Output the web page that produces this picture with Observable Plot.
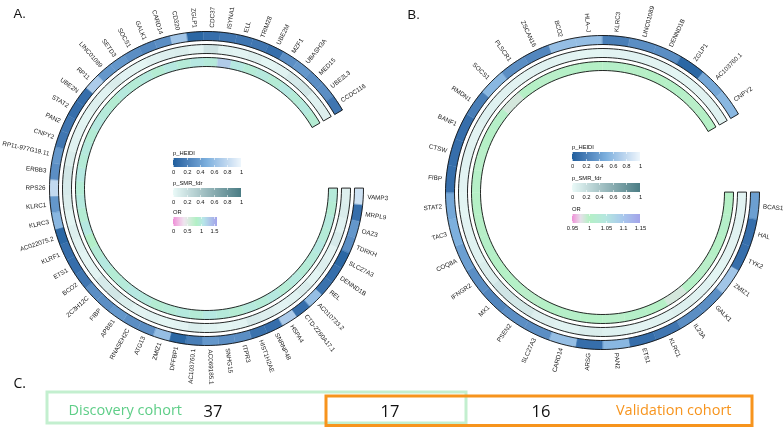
<!DOCTYPE html>
<html><head><meta charset="utf-8">
<script src="https://cdn.jsdelivr.net/npm/d3@7"></script>
<script src="https://cdn.jsdelivr.net/npm/@observablehq/plot@0.6"></script>
<style>
body{margin:0;background:#fff;}
#wrap{position:relative;width:784px;height:428px;overflow:hidden;background:#fff;}
#wrap svg{will-change:transform;}
#wrap svg text{-webkit-font-smoothing:antialiased;}
.lg{position:absolute;}
</style></head><body><div id="wrap"></div>
<script>
// ---------------- DATA ----------------
const genesA = ["VAMP3","MRPL9","OAZ3","TDRKH","SLC27A3","DENND1B","REL","AC010733.2","CTD-2260A17.1","HSPA4","SNRNP48","HIST1H2AE","ITPR3","SNHG15","AC069185.1","AC103760.1","DFFBP1","ZMIZ1","ATG13","RNASEH2C","APBB1","FIBP","ZC3H12C","BCO2","ETS1","KLRF1","AC022075.2","KLRC3","KLRC1","RPS26","ERBB3","RP11-977G19.11","CNPY2","PAN2","STAT2","UBE2N","RP11","LINC01089","SETD3","SOCS1","GALK1","CARD14","CD320","ZGLP1","CDC37","ISYNA1","ELL","TRIM28","UBE2M","MZF1","UBASH3A","MED15","UBE2L3","CCDC116"];
const heidiA = [0.85,0.1,0.35,0.3,0.05,0.1,0.12,0.6,0.1,0.7,0.1,0.12,0.3,0.3,0.35,0.2,0.05,0.6,0.3,0.3,0.35,0.3,0.3,0.15,0.1,0.1,0.05,0.55,0.35,0.8,0.3,0.35,0.15,0.15,0.1,0.1,0.7,0.35,0.35,0.3,0.25,0.3,0.65,0.05,0.1,0.15,0.15,0.15,0.1,0.3,0.35,0.3,0.3,0.15];
const smrA = [0.08,0.1,0.06,0.12,0.05,0.08,0.04,0.1,0.06,0.05,0.08,0.12,0.05,0.04,0.06,0.1,0.05,0.04,0.06,0.05,0.1,0.15,0.12,0.05,0.04,0.06,0.08,0.04,0.1,0.12,0.15,0.1,0.06,0.05,0.04,0.08,0.06,0.1,0.05,0.04,0.06,0.08,0.1,0.05,0.18,0.06,0.05,0.08,0.04,0.06,0.12,0.15,0.06,0.08];
const orA = [1.0,0.95,1.02,0.98,1.05,1.0,0.97,1.03,0.96,1.04,0.98,1.02,0.95,1.0,1.05,0.97,1.03,0.98,0.95,1.02,1.06,1.0,0.96,1.04,0.97,0.88,1.05,0.95,1.03,0.96,1.05,0.98,1.02,0.96,1.04,1.0,0.94,1.03,0.97,1.02,0.95,1.04,0.98,1.06,1.0,1.3,1.05,0.97,1.02,0.96,1.05,0.98,1.03,0.95];

const genesB = ["BCAS1","HAL","TYK2","ZMIZ1","GALK1","IL23A","KLRC1","ETS1","PAN2","ARSG","CARD14","SLC27A3","PSEN2","MX1","IFNGR2","COQ8A","TAC3","STAT2","FIBP","CTSW","BANF1","RMDN1","SOCS1","PLSCR1","ZSCAN16","BCO2","HLA–J","KLRC3","LINC01089","DENND1B","ZGLP1","AC103760.1","CNPY2"];
const heidiB = [0.4,0.1,0.1,0.65,0.3,0.3,0.15,0.1,0.55,0.1,0.6,0.3,0.3,0.25,0.3,0.4,0.5,0.45,0.1,0.1,0.1,0.2,0.55,0.3,0.25,0.6,0.6,0.2,0.3,0.3,0.05,0.45,0.55];
const smrB = [0.05,0.06,0.05,0.04,0.06,0.08,0.06,0.05,0.07,0.1,0.06,0.08,0.14,0.16,0.1,0.06,0.05,0.04,0.05,0.06,0.05,0.07,0.06,0.05,0.06,0.05,0.04,0.05,0.06,0.05,0.04,0.05,0.06];
const orB = [1.0,1.005,1.0,0.998,1.002,0.985,1.0,1.004,0.998,1.0,1.003,1.0,0.997,1.002,1.0,1.004,0.999,1.0,1.002,0.998,1.0,1.003,0.985,1.0,0.998,1.002,1.0,1.004,0.999,1.0,1.002,0.998,1.0];

const vennCounts = [37, 17, 16];
const cohortLabels = ["Discovery cohort", "Validation cohort"];
const panelLabels = ["A.", "B.", "C."];
const heidiTicks = [0, 0.2, 0.4, 0.6, 0.8, 1];
const smrTicks = [0, 0.2, 0.4, 0.6, 0.8, 1];
const orTicksA = [0, 0.5, 1, 1.5];
const orTicksB = [0.95, 1, 1.05, 1.1, 1.15];

// ---------------- LAYOUT & STYLE ----------------
const W = 784, H = 428;
const circA = {cx: 206, cy: 188}, circB = {cx: 602, cy: 192};
const ringGeom = [{key: "heidi", r0: 148, r1: 157}, {key: "smr", r0: 135, r1: 144}, {key: "or", r0: 122, r1: 131}];
const startDeg = 90, spanDeg = 330, labelR = 161;
const labelFont = "Liberation Sans, Arial, sans-serif";
const vennFont = "Open Sans, sans-serif";
const vennLayout = {
  boxes: [{x1: 47, x2: 466, y1: 392, y2: 423, stroke: "#c3efcf"}, {x1: 326, x2: 752, y1: 396, y2: 425.5, stroke: "#f7941d"}],
  numX: [212.5, 389.5, 540.5], numY: 416.5,
  labX: [68, 731], labY: 414, labAnchor: ["start", "end"], labColor: ["#5fce88", "#f7941d"]
};
const panelPos = [[13, 17], [407, 18], [13, 387]];

const heidiColor = d3.scaleLinear().domain([0, 0.5, 1]).range(["#1f5f9e", "#7db0de", "#eef6fc"]).interpolate(d3.interpolateLab).clamp(true);
const smrColor = d3.scaleLinear().domain([0, 1]).range(["#eafaf8", "#4b7d85"]).interpolate(d3.interpolateLab).clamp(true);
const orColorA = d3.scaleLinear().domain([0, 0.4, 0.85, 1.1, 1.6]).range(["#ee90d8", "#efe6ef", "#b2f0c5", "#b6e6e8", "#a3a4ea"]).interpolate(d3.interpolateLab).clamp(true);
const orColorB = d3.scaleLinear().domain([0.95, 0.975, 1, 1.05, 1.1, 1.15]).range(["#ee90d8", "#e6e0ea", "#b5f0c6", "#b5e6e0", "#a8c8ec", "#a3a4ea"]).interpolate(d3.interpolateLab).clamp(true);

// ---------------- GEOMETRY ----------------
const rad = d => d * Math.PI / 180;
const polar = (c, r, deg) => [c.cx + r * Math.sin(rad(deg)), c.cy - r * Math.cos(rad(deg))];

function cellRows(chart, c, genes, series) {
  const step = spanDeg / genes.length, out = [], K = 6;
  series.forEach((s, si) => {
    const g = ringGeom[si];
    genes.forEach((name, i) => {
      const a0 = startDeg + i * step, a1 = a0 + step, id = chart + g.key + i, fill = s.color(s.vals[i]);
      for (let k = 0; k <= K; k++) { const [x, y] = polar(c, g.r1, a0 + (a1 - a0) * k / K); out.push({x, y, id, fill}); }
      for (let k = K; k >= 0; k--) { const [x, y] = polar(c, g.r0, a0 + (a1 - a0) * k / K); out.push({x, y, id, fill}); }
    });
  });
  return out;
}
function outlineRows(chart, c) {
  const out = [], K = 160;
  ringGeom.forEach(g => {
    const id = chart + "o" + g.key;
    for (let k = 0; k <= K; k++) { const [x, y] = polar(c, g.r1, startDeg + spanDeg * k / K); out.push({x, y, id}); }
    for (let k = K; k >= 0; k--) { const [x, y] = polar(c, g.r0, startDeg + spanDeg * k / K); out.push({x, y, id}); }
  });
  return out;
}
function labelRows(c, genes) {
  const step = spanDeg / genes.length;
  return genes.map((name, i) => {
    const th = (startDeg + (i + 0.5) * step) % 360;
    const right = th < 180;
    const [x, y] = polar(c, labelR, th);
    return {x, y, name, rot: right ? th - 90 : th - 270, right};
  });
}

const cells = [
  ...cellRows("A", circA, genesA, [{vals: heidiA, color: heidiColor}, {vals: smrA, color: smrColor}, {vals: orA, color: orColorA}]),
  ...cellRows("B", circB, genesB, [{vals: heidiB, color: heidiColor}, {vals: smrB, color: smrColor}, {vals: orB, color: orColorB}])
];
const outlines = [...outlineRows("A", circA), ...outlineRows("B", circB)];
const labs = [...labelRows(circA, genesA), ...labelRows(circB, genesB)];

const vennNums = vennCounts.map((n, i) => ({n: String(n), x: vennLayout.numX[i], y: vennLayout.numY}));
const vennLabs = cohortLabels.map((t, i) => ({t, x: vennLayout.labX[i], y: vennLayout.labY, color: vennLayout.labColor[i], anchor: vennLayout.labAnchor[i]}));
const panels = panelLabels.map((t, i) => ({t, x: panelPos[i][0], y: panelPos[i][1]}));

const chart = Plot.plot({
  width: W, height: H, margin: 0,
  x: {domain: [0, W], range: [0, W], axis: null},
  y: {domain: [0, H], range: [0, H], axis: null},
  style: {background: "#fff", overflow: "visible"},
  marks: [
    Plot.line(cells, {x: "x", y: "y", z: "id", fill: "fill", stroke: "fill", strokeWidth: 0.4, curve: "linear-closed"}),
    Plot.line(outlines, {x: "x", y: "y", z: "id", stroke: "#111", strokeWidth: 0.9, fill: "none", curve: "linear-closed"}),
    Plot.text(labs.filter(d => d.right), {x: "x", y: "y", text: "name", rotate: "rot", textAnchor: "start", lineAnchor: "middle", fontSize: 6.3, fontFamily: labelFont, fill: "#222"}),
    Plot.text(labs.filter(d => !d.right), {x: "x", y: "y", text: "name", rotate: "rot", textAnchor: "end", lineAnchor: "middle", fontSize: 6.3, fontFamily: labelFont, fill: "#222"}),
    Plot.text(panels.slice(0, 2), {x: "x", y: "y", text: "t", textAnchor: "start", lineAnchor: "bottom", fontSize: 13, fontFamily: labelFont, fill: "#111"}),
    Plot.text(panels.slice(2), {x: "x", y: "y", text: "t", textAnchor: "start", lineAnchor: "bottom", fontSize: 14, fontFamily: vennFont, fill: "#111"}),
    Plot.rect(vennLayout.boxes, {x1: "x1", x2: "x2", y1: "y1", y2: "y2", stroke: "stroke", fill: "none", strokeWidth: 3}),
    Plot.text(vennNums, {x: "x", y: "y", text: "n", textAnchor: "middle", lineAnchor: "bottom", fontSize: 16.5, fontFamily: vennFont, fill: "#111"}),
    Plot.text(vennLabs.slice(0, 1), {x: "x", y: "y", text: "t", fill: "color", textAnchor: "start", lineAnchor: "bottom", fontSize: 14.5, fontFamily: vennFont}),
    Plot.text(vennLabs.slice(1), {x: "x", y: "y", text: "t", fill: "color", textAnchor: "end", lineAnchor: "bottom", fontSize: 14.5, fontFamily: vennFont})
  ]
});
const wrap = document.getElementById("wrap");
wrap.appendChild(chart);

// ---------------- LEGENDS ----------------
function ramp(label, scaleFn, lo, hi, ticks, width, left, barTop) {
  const mt = 8, mb = 7, h = 24;
  const el = Plot.legend({
    color: {type: "linear", domain: [lo, hi], interpolate: t => scaleFn(lo + t * (hi - lo))},
    label, width, height: h, marginTop: mt, marginBottom: mb, marginLeft: 0, marginRight: 0,
    tickSize: 0, ticks, tickFormat: d => String(d),
    style: {fontSize: "5.8px", fontFamily: labelFont, color: "#111", background: "transparent", overflow: "visible"}
  });
  const s = d3.select(el);
  s.selectAll("text").filter(function () { return this.parentNode === el; }).attr("font-weight", "normal").attr("y", mt - 3.5);
  s.selectAll(".tick line").each(function () {
    const l = d3.select(this);
    l.attr("stroke", "#fff").attr("stroke-width", 0.6).attr("y1", -(h - mt - mb)).attr("y2", -(h - mt - mb) + 2);
    const c = this.cloneNode(); this.parentNode.insertBefore(c, this);
    d3.select(c).attr("y1", -2).attr("y2", 0);
  });
  el.classList.add("lg");
  el.style.position = "absolute";
  el.style.left = left + "px";
  el.style.top = (barTop - mt) + "px";
  wrap.appendChild(el);
}
ramp("p_HEIDI", heidiColor, 0, 1, heidiTicks, 68, 173, 158);
ramp("p_SMR_fdr", smrColor, 0, 1, smrTicks, 68, 173, 188);
ramp("OR", orColorA, 0, 1.6, orTicksA, 44, 173, 217);
ramp("p_HEIDI", heidiColor, 0, 1, heidiTicks, 68, 572, 152);
ramp("p_SMR_fdr", smrColor, 0, 1, smrTicks, 68, 572, 183);
ramp("OR", orColorB, 0.95, 1.15, orTicksB, 68, 572, 214);
</script></body></html>
